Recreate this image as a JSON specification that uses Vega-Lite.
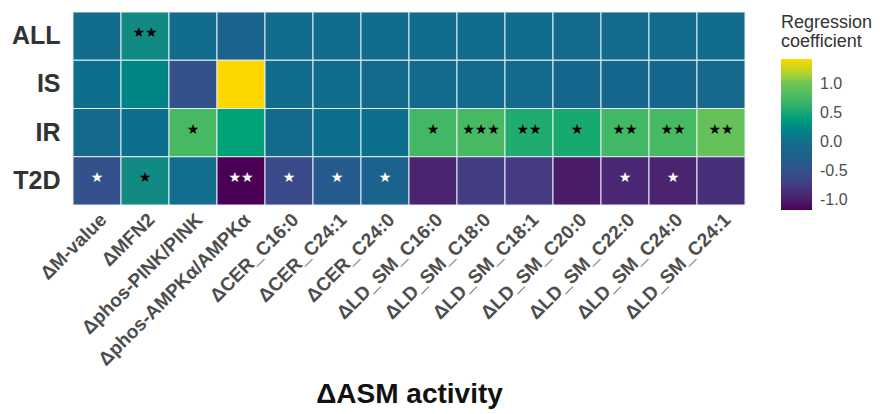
{
  "$schema": "https://vega.github.io/schema/vega-lite/v6.json",
  "autosize": {"type": "none"},
  "width": 672,
  "height": 193,
  "padding": {"left": 73, "top": 12, "right": 135, "bottom": 209},
  "background": "white",
  "config": {
    "view": {"stroke": null},
    "font": "Liberation Sans"
  },
  "data": {
    "values": [
      {"group": "ALL", "asm": "ΔM-value", "coef": -0.04, "sig": ""},
      {"group": "ALL", "asm": "ΔMFN2", "coef": 0.25, "sig": "★★"},
      {"group": "ALL", "asm": "Δphos-PINK/PINK", "coef": -0.01, "sig": ""},
      {"group": "ALL", "asm": "Δphos-AMPKα/AMPKα", "coef": -0.2, "sig": ""},
      {"group": "ALL", "asm": "ΔCER_C16:0", "coef": -0.02, "sig": ""},
      {"group": "ALL", "asm": "ΔCER_C24:1", "coef": -0.02, "sig": ""},
      {"group": "ALL", "asm": "ΔCER_C24:0", "coef": -0.02, "sig": ""},
      {"group": "ALL", "asm": "ΔLD_SM_C16:0", "coef": -0.02, "sig": ""},
      {"group": "ALL", "asm": "ΔLD_SM_C18:0", "coef": -0.02, "sig": ""},
      {"group": "ALL", "asm": "ΔLD_SM_C18:1", "coef": -0.02, "sig": ""},
      {"group": "ALL", "asm": "ΔLD_SM_C20:0", "coef": -0.08, "sig": ""},
      {"group": "ALL", "asm": "ΔLD_SM_C22:0", "coef": -0.05, "sig": ""},
      {"group": "ALL", "asm": "ΔLD_SM_C24:0", "coef": -0.05, "sig": ""},
      {"group": "ALL", "asm": "ΔLD_SM_C24:1", "coef": -0.03, "sig": ""},
      {"group": "IS", "asm": "ΔM-value", "coef": 0.02, "sig": ""},
      {"group": "IS", "asm": "ΔMFN2", "coef": 0.2, "sig": ""},
      {"group": "IS", "asm": "Δphos-PINK/PINK", "coef": -0.5, "sig": ""},
      {"group": "IS", "asm": "Δphos-AMPKα/AMPKα", "coef": 1.43, "sig": ""},
      {"group": "IS", "asm": "ΔCER_C16:0", "coef": -0.02, "sig": ""},
      {"group": "IS", "asm": "ΔCER_C24:1", "coef": -0.02, "sig": ""},
      {"group": "IS", "asm": "ΔCER_C24:0", "coef": -0.05, "sig": ""},
      {"group": "IS", "asm": "ΔLD_SM_C16:0", "coef": -0.05, "sig": ""},
      {"group": "IS", "asm": "ΔLD_SM_C18:0", "coef": -0.05, "sig": ""},
      {"group": "IS", "asm": "ΔLD_SM_C18:1", "coef": -0.05, "sig": ""},
      {"group": "IS", "asm": "ΔLD_SM_C20:0", "coef": -0.12, "sig": ""},
      {"group": "IS", "asm": "ΔLD_SM_C22:0", "coef": -0.12, "sig": ""},
      {"group": "IS", "asm": "ΔLD_SM_C24:0", "coef": -0.12, "sig": ""},
      {"group": "IS", "asm": "ΔLD_SM_C24:1", "coef": -0.1, "sig": ""},
      {"group": "IR", "asm": "ΔM-value", "coef": -0.1, "sig": ""},
      {"group": "IR", "asm": "ΔMFN2", "coef": 0.02, "sig": ""},
      {"group": "IR", "asm": "Δphos-PINK/PINK", "coef": 0.75, "sig": "★"},
      {"group": "IR", "asm": "Δphos-AMPKα/AMPKα", "coef": 0.45, "sig": ""},
      {"group": "IR", "asm": "ΔCER_C16:0", "coef": -0.05, "sig": ""},
      {"group": "IR", "asm": "ΔCER_C24:1", "coef": 0.02, "sig": ""},
      {"group": "IR", "asm": "ΔCER_C24:0", "coef": 0.02, "sig": ""},
      {"group": "IR", "asm": "ΔLD_SM_C16:0", "coef": 0.72, "sig": "★"},
      {"group": "IR", "asm": "ΔLD_SM_C18:0", "coef": 0.75, "sig": "★★★"},
      {"group": "IR", "asm": "ΔLD_SM_C18:1", "coef": 0.55, "sig": "★★"},
      {"group": "IR", "asm": "ΔLD_SM_C20:0", "coef": 0.52, "sig": "★"},
      {"group": "IR", "asm": "ΔLD_SM_C22:0", "coef": 0.72, "sig": "★★"},
      {"group": "IR", "asm": "ΔLD_SM_C24:0", "coef": 0.75, "sig": "★★"},
      {"group": "IR", "asm": "ΔLD_SM_C24:1", "coef": 0.95, "sig": "★★"},
      {"group": "T2D", "asm": "ΔM-value", "coef": -0.5, "sig": "★"},
      {"group": "T2D", "asm": "ΔMFN2", "coef": 0.25, "sig": "★"},
      {"group": "T2D", "asm": "Δphos-PINK/PINK", "coef": 0.0, "sig": ""},
      {"group": "T2D", "asm": "Δphos-AMPKα/AMPKα", "coef": -1.17, "sig": "★★"},
      {"group": "T2D", "asm": "ΔCER_C16:0", "coef": -0.6, "sig": "★"},
      {"group": "T2D", "asm": "ΔCER_C24:1", "coef": -0.35, "sig": "★"},
      {"group": "T2D", "asm": "ΔCER_C24:0", "coef": -0.2, "sig": "★"},
      {"group": "T2D", "asm": "ΔLD_SM_C16:0", "coef": -0.95, "sig": ""},
      {"group": "T2D", "asm": "ΔLD_SM_C18:0", "coef": -0.72, "sig": ""},
      {"group": "T2D", "asm": "ΔLD_SM_C18:1", "coef": -0.75, "sig": ""},
      {"group": "T2D", "asm": "ΔLD_SM_C20:0", "coef": -1.02, "sig": ""},
      {"group": "T2D", "asm": "ΔLD_SM_C22:0", "coef": -0.92, "sig": "★"},
      {"group": "T2D", "asm": "ΔLD_SM_C24:0", "coef": -0.95, "sig": "★"},
      {"group": "T2D", "asm": "ΔLD_SM_C24:1", "coef": -0.85, "sig": ""}
    ]
  },
  "encoding": {
    "x": {
      "field": "asm",
      "type": "nominal",
      "sort": ["ΔM-value", "ΔMFN2", "Δphos-PINK/PINK", "Δphos-AMPKα/AMPKα", "ΔCER_C16:0", "ΔCER_C24:1", "ΔCER_C24:0", "ΔLD_SM_C16:0", "ΔLD_SM_C18:0", "ΔLD_SM_C18:1", "ΔLD_SM_C20:0", "ΔLD_SM_C22:0", "ΔLD_SM_C24:0", "ΔLD_SM_C24:1"],
      "scale": {"paddingInner": 0, "paddingOuter": 0},
      "axis": {
        "labelAngle": -45,
        "labelFontSize": 19,
        "labelFontWeight": "bold",
        "labelColor": "#4d4d4d",
        "labelLimit": 0,
        "ticks": false,
        "domain": false,
        "labelPadding": 5,
        "title": "ΔASM activity",
        "titleFontSize": 28,
        "titleFontWeight": "bold",
        "titleColor": "#111111",
        "titleY": 197,
        "titleBaseline": "alphabetic"
      }
    },
    "y": {
      "field": "group",
      "type": "nominal",
      "sort": ["ALL", "IS", "IR", "T2D"],
      "scale": {"paddingInner": 0, "paddingOuter": 0},
      "axis": {
        "title": null,
        "labelFontSize": 25,
        "labelFontWeight": "bold",
        "labelColor": "#333333",
        "ticks": false,
        "domain": false,
        "labelPadding": 13
      }
    }
  },
  "layer": [
    {
      "mark": {"type": "rect", "stroke": "#e8eef2", "strokeWidth": 1},
      "encoding": {
        "color": {
          "field": "coef",
          "type": "quantitative",
          "scale": {
            "domain": [-1.17, -0.75, -0.5, -0.25, 0, 0.25, 0.5, 0.75, 1.0, 1.2, 1.43],
            "range": ["#4a0055", "#463a84", "#33528c", "#1e608c", "#126e8c", "#128a84", "#12a870", "#48b963", "#6cc457", "#b4d42c", "#ffd700"]
          },
          "legend": {
            "orient": "none",
            "legendX": 708,
            "legendY": 2,
            "padding": 0,
            "title": ["Regression", "coefficient"],
            "titleFontSize": 18,
            "titleFontWeight": "normal",
            "titleColor": "#333333",
            "titleLineHeight": 19,
            "titlePadding": 8,
            "gradientLength": 151,
            "gradientThickness": 31,
            "gradientStrokeWidth": 0,
            "values": [-1, -0.5, 0, 0.5, 1],
            "labelExpr": "replace(format(datum.value, '.1f'), '−', '-')",
            "labelFontSize": 16,
            "labelColor": "#4d4d4d",
            "labelOffset": 8,
            "labelOverlap": false
          }
        }
      }
    },
    {
      "mark": {"type": "text", "font": "DejaVu Sans", "fontSize": 14, "baseline": "middle", "dy": -3},
      "encoding": {
        "text": {"field": "sig"},
        "color": {
          "condition": {"test": "datum.coef < 0", "value": "white"},
          "value": "black"
        }
      }
    }
  ]
}
